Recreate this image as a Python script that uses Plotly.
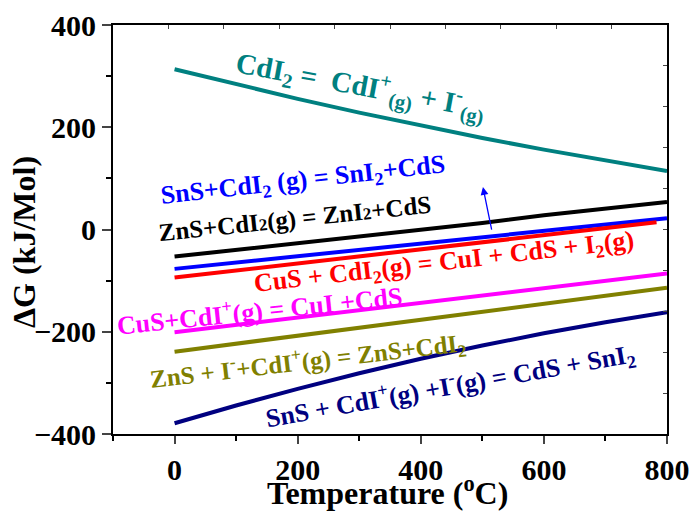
import plotly.graph_objects as go

# ---- data ----
temperature = [0, 100, 200, 300, 400, 500, 600, 700, 800]
dg_cdi2_diss = [313.5, 284, 255.6, 228.7, 203.2, 179, 156.2, 134.7, 114.6]
dg_zns_cdi2 = [-53, -39.9, -26.8, -13.6, -0.5, 12.6, 27.8, 40.9, 54]
dg_sns_cdi2 = [-77, -64.4, -51.9, -39.4, -27.5, -14.9, -2.3, 9.7, 22]
temperature_red = [0, 100, 200, 300, 400, 500, 600, 700, 783]
dg_cus_cdi2 = [-94, -80.4, -66.8, -53.2, -39.6, -26, -12.4, 1.2, 14]
dg_cus_cdi = [-201, -186.6, -172.3, -157.9, -143.5, -129.1, -114.8, -100.4, -86]
dg_zns_icdi = [-239, -223.4, -207.8, -192.1, -176.5, -160.9, -145.3, -129.6, -114]
dg_sns_cdi_i = [-379, -344.2, -311.6, -281.1, -252.9, -226.9, -203.1, -181.5, -162]

x_ticks = [0, 200, 400, 600, 800]
y_ticks = [-400, -200, 0, 200, 400]

FONT = "Liberation Serif"

fig = go.Figure()

series = [
    (temperature, dg_cdi2_diss, "#008080"),
    (temperature, dg_zns_cdi2, "#000000"),
    (temperature, dg_sns_cdi2, "#0000FF"),
    (temperature_red, dg_cus_cdi2, "#FF0000"),
    (temperature, dg_cus_cdi, "#FF00FF"),
    (temperature, dg_zns_icdi, "#808000"),
    (temperature, dg_sns_cdi_i, "#000080"),
]
for xs, ys, col in series:
    fig.add_trace(go.Scatter(x=xs, y=ys, mode="lines",
                             line=dict(color=col, width=4), showlegend=False))

# dummy trace to anchor the mirrored (top/right) frame axes
fig.add_trace(go.Scatter(x=[None], y=[None], xaxis="x2", yaxis="y2",
                         showlegend=False, hoverinfo="skip"))

def ann(text, px, py, angle, color, size):
    fig.add_annotation(text=text, x=(px - 113) / 554, y=(434 - py) / 409,
                       xref="paper", yref="paper", showarrow=False,
                       textangle=angle, xanchor="center", yanchor="middle",
                       font=dict(family=FONT, size=size, color=color, weight="bold"))

ann("CdI<sub>2</sub> =  CdI<sup>+</sup><sub>(g)</sub> + I<sup>-</sup><sub>(g)</sub>",
    360, 86, 10.5, "#008080", 29)
ann("SnS+CdI<sub>2</sub> (g) = SnI<sub>2</sub>+CdS", 303, 181, -6.4, "#0000FF", 26)
ann("ZnS+CdI<span style='font-size:17px'>2</span>(g) = ZnI<span style='font-size:17px'>2</span>+CdS",
    295, 219, -6, "#000000", 25)
ann("CuS + CdI<sub>2</sub>(g) = CuI + CdS + I<sub>2</sub>(g)", 444, 263, -6.6, "#FF0000", 26)
ann("CuS+CdI<sup>+</sup>(g) = CuI +CdS", 259, 309, -6, "#FF00FF", 26)
ann("ZnS + I<sup>-</sup>+CdI<sup>+</sup>(g) = ZnS+CdI<sub>2</sub>", 308, 361, -6.7, "#808000", 25)
ann("SnS + CdI<sup>+</sup>(g) +I<sup>-</sup>(g) = CdS + SnI<sub>2</sub>", 450, 386, -10.1, "#000080", 26)

# axis titles
ann("Temperature (<sup>o</sup>C)", 387, 491, 0, "#000000", 32)
ann("ΔG (kJ/Mol)", 24, 242, -90, "#000000", 32)

# blue arrow
fig.add_annotation(x=501, y=83, xref="x", yref="y", ax=9, ay=44,
                   axref="pixel", ayref="pixel", showarrow=True, text="",
                   arrowhead=2, arrowsize=1.2, arrowwidth=1.3, arrowcolor="#0000FF")

axis_font = dict(family=FONT, size=30, color="black", weight="bold")

fig.update_layout(
    width=691, height=511,
    margin=dict(l=113, r=24, t=25, b=77),
    paper_bgcolor="white", plot_bgcolor="white",
    xaxis=dict(range=[-100, 800], tickvals=x_ticks, ticks="outside", ticklen=8,
               tickwidth=1.5, showline=True, linewidth=2, linecolor="black",
               showgrid=False, zeroline=False, tickfont=axis_font, automargin=False,
               minor=dict(dtick=100, ticks="outside", ticklen=5, tickwidth=1.5,
                          tickcolor="black", showgrid=False)),
    yaxis=dict(range=[-400, 400], tickvals=y_ticks, ticks="outside", ticklen=9,
               tickwidth=1.5, showline=True, linewidth=2, linecolor="black",
               showgrid=False, zeroline=False, tickfont=axis_font, automargin=False,
               minor=dict(dtick=100, ticks="outside", ticklen=5, tickwidth=1.5,
                          tickcolor="black", showgrid=False)),
    xaxis2=dict(overlaying="x", side="top", range=[0, 10], dtick=1, ticks="inside",
                ticklen=4, tickwidth=1, showline=True, linewidth=2, linecolor="black",
                showticklabels=False, showgrid=False, zeroline=False, automargin=False),
    yaxis2=dict(overlaying="y", side="right", range=[0, 10], dtick=1, ticks="inside",
                ticklen=4, tickwidth=1, showline=True, linewidth=2, linecolor="black",
                showticklabels=False, showgrid=False, zeroline=False, automargin=False),
)

fig.write_html("out.html")
